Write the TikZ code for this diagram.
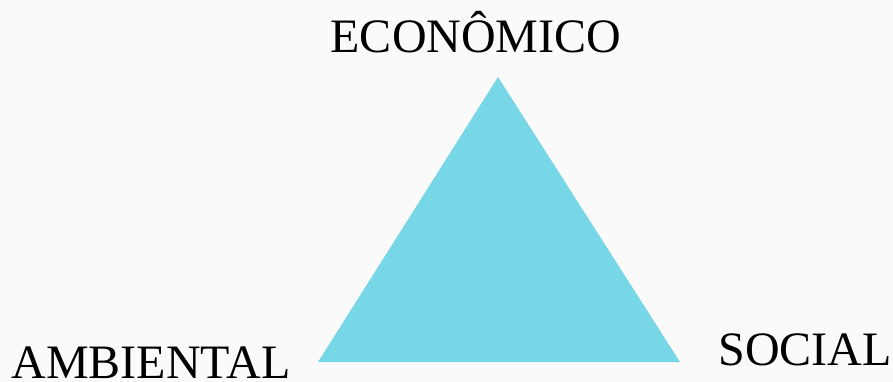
\documentclass[tikz,border=0pt]{standalone}
\usepackage{fontspec}
\setmainfont{Liberation Serif}
\definecolor{aqua}{RGB}{120,215,231}
\definecolor{paper}{RGB}{250,250,250}
\tikzset{
  pillar/.style={anchor=base,inner sep=0pt,text depth=0pt,font=\fontsize{48}{58}\selectfont}
}
\begin{document}
\begin{tikzpicture}[x=1pt,y=-1pt]
  \fill[paper] (0,0) rectangle (893,382);
  \useasboundingbox (0,0) rectangle (893,382);
  \coordinate (T) at (498,77);
  \coordinate (L) at (318,362);
  \coordinate (R) at (680,362);
  \fill[aqua] (T) -- (R) -- (L) -- cycle;
  \node[pillar] (eco) at (476,53) {ECONÔMICO};
  \node[pillar] (amb) at (151,378) {AMBIENTAL};
  \node[pillar] (soc) at (805,365) {SOCIAL};
\end{tikzpicture}
\end{document}
